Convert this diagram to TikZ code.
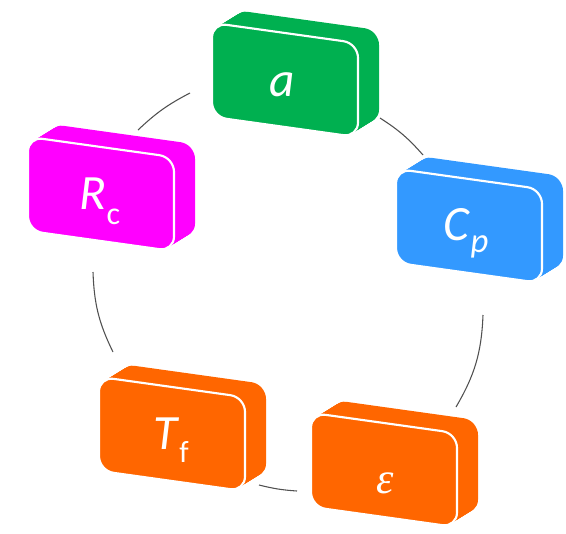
\documentclass[tikz,border=0pt]{standalone}
\usepackage{fontspec}
\setmainfont{Carlito}
\newfontfamily\epsfont{Liberation Serif}
\definecolor{cgreen}{HTML}{00B050}
\definecolor{cblue}{HTML}{3399FF}
\definecolor{cmag}{HTML}{FF00FF}
\definecolor{corange}{HTML}{FF6600}
\definecolor{cline}{HTML}{505050}
\newcommand\slabbox[3]{%
  \begin{scope}[shift={(#1,#2)}]
    \foreach \t in {0,1,...,20}{
      \fill[#3, rounded corners=11pt, shift={(\t*1.05,-\t*0.65)}]
        (-73,-57.2) -- (73,-36.8) -- (73,57.2) -- (-73,36.8) -- cycle;
    }
    \filldraw[fill=#3, draw=white, line width=1.6pt, rounded corners=11pt]
      (-73,-57.2) -- (73,-36.8) -- (73,57.2) -- (-73,36.8) -- cycle;
  \end{scope}}
\begin{document}
\begin{tikzpicture}[x=0.75pt, y=-0.75pt,
  lbl/.style={text=white, inner sep=0pt, font=\fontsize{37}{37}\selectfont},
  ring/.style={draw=cline, line width=0.8pt}]
\useasboundingbox (0,0) rectangle (566,533);
% ring arcs
\coordinate (p1) at (138,130);
\coordinate (p2) at (190,93);
\coordinate (p3) at (380,118);
\coordinate (p4) at (423,155);
\coordinate (p5) at (483,315);
\coordinate (p6) at (456,407);
\coordinate (p7) at (297,491);
\coordinate (p8) at (259,485);
\coordinate (p9) at (113,352);
\coordinate (p10) at (93,272);
\draw[ring] (p1) to[bend left=8] (p2);
\draw[ring] (p3) to[bend left=8] (p4);
\draw[ring] (p5) to[bend left=14] (p6);
\draw[ring] (p7) to[bend left=5] (p8);
\draw[ring] (p9) to[bend left=12] (p10);
% boxes
\slabbox{285}{80}{cgreen}
\slabbox{469}{226}{cblue}
\slabbox{101}{194}{cmag}
\slabbox{172}{434}{corange}
\slabbox{384}{470}{corange}
% labels
\node[lbl] (a) at (282,85) {\textit{a}};
\node[lbl] (cp) at (466,233) {\textit{C}\raisebox{-9pt}{\fontsize{26}{26}\selectfont\textit{p}}};
\node[lbl] (rc) at (100,201) {\textit{R}\raisebox{-11pt}{\fontsize{24}{24}\selectfont c}};
\node[lbl] (tf) at (171,440) {\textit{T}\raisebox{-10pt}{\fontsize{23}{23}\selectfont f}};
\node[lbl, font=\epsfont\itshape\fontsize{33}{33}\selectfont] (eps) at (385,483) {ε};
\end{tikzpicture}
\end{document}
